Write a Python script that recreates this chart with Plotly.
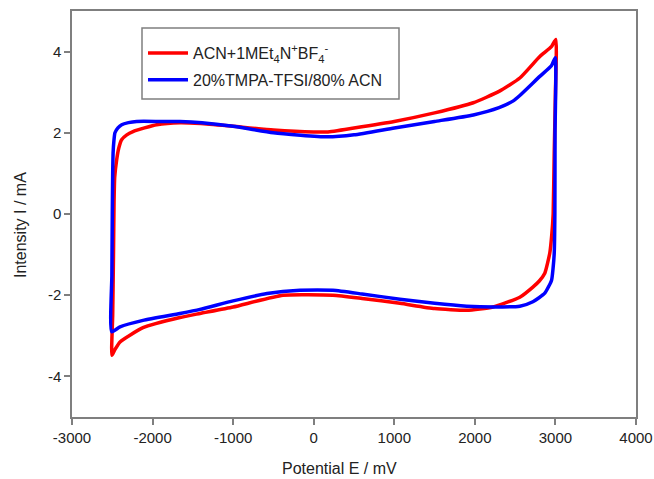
import plotly.graph_objects as go

# Red: ACN + 1M Et4N+BF4-
red_E = [-2505, -2495, -2485, -2478, -2470, -2446, -2420, -2384, -2320, -2243, -2100, -1950,
         -1660, -1400, -1000, -500, 0, 165, 500, 1000, 1500, 1981, 2300, 2558, 2806, 2950, 3005,
         3000, 2985, 2972, 2955, 2930, 2868, 2800, 2720, 2558, 2223, 1900, 1500, 1070, 600, 238,
         -382, -1000, -1412, -1660, -2119, -2404, -2470, -2505]
red_I = [-3.48, -2.5, -1.0, 0.3, 0.9, 1.33, 1.62, 1.83, 1.95, 2.03, 2.12, 2.2,
         2.25, 2.23, 2.16, 2.07, 2.02, 2.02, 2.12, 2.28, 2.49, 2.74, 3.02, 3.35, 3.88, 4.12, 4.3,
         3.0, 1.5, 0.0, -0.5, -0.96, -1.46, -1.65, -1.8, -2.05, -2.29, -2.37, -2.33, -2.2, -2.08, -2.0,
         -2.0, -2.29, -2.45, -2.55, -2.8, -3.15, -3.35, -3.48]

# Blue: 20% TMPA-TFSI / 80% ACN
blue_E = [-2507, -2505, -2500, -2495, -2490, -2480, -2467, -2430, -2383, -2300, -2197, -1900,
          -1660, -1386, -1000, -500, 165, 500, 1000, 1500, 1981, 2300, 2472, 2558, 2806, 2950, 2998,
          2995, 2993, 2985, 2970, 2952, 2868, 2720, 2558, 2223, 1900, 1500, 1070, 600, 238, -171,
          -580, -1000, -1412, -1660, -2119, -2404, -2507]
blue_I = [-2.9, -1.5, 0.0, 1.0, 1.5, 1.8, 2.0, 2.12, 2.2, 2.25, 2.28, 2.28,
          2.28, 2.25, 2.16, 2.0, 1.90, 1.95, 2.12, 2.28, 2.44, 2.62, 2.78, 2.92, 3.39, 3.65, 3.85,
          2.0, 0.0, -0.97, -1.35, -1.63, -1.95, -2.16, -2.27, -2.29, -2.27, -2.2, -2.1, -1.97, -1.88, -1.88,
          -1.96, -2.14, -2.35, -2.45, -2.62, -2.78, -2.9]

x_ticks = [-3000, -2000, -1000, 0, 1000, 2000, 3000, 4000]
y_ticks = [-4, -2, 0, 2, 4]

FONT = "Liberation Sans, Arial"

fig = go.Figure()
fig.add_trace(go.Scatter(x=red_E, y=red_I, mode="lines",
                         line=dict(color="#FF0000", width=3.5, shape="spline", smoothing=0.5),
                         legendgroup="a",
                         name="ACN+1MEt<sub>4</sub>N<sup>+</sup>BF<sub>4</sub><sup>-</sup>"))
fig.add_trace(go.Scatter(x=blue_E, y=blue_I, mode="lines",
                         line=dict(color="#0000FF", width=3.5, shape="spline", smoothing=0.5),
                         legendgroup="b",
                         name="20%TMPA-TFSI/80% ACN"))

axis_common = dict(showgrid=False, zeroline=False, showline=True, linecolor="#7f7f7f",
                   linewidth=1.5, mirror=True, ticks="outside", ticklen=6, tickwidth=1.5,
                   tickcolor="#7f7f7f", automargin=False,
                   tickfont=dict(family=FONT, size=15, color="#222"))

fig.update_xaxes(range=[-3000, 4000], tickvals=x_ticks, ticktext=[str(v) for v in x_ticks],
                 **axis_common)
fig.update_yaxes(range=[-5, 5], tickvals=y_ticks, ticktext=[str(v) for v in y_ticks],
                 **axis_common)

# axis titles positioned as in the reference
fig.add_annotation(text="Potential E / mV", xref="paper", yref="paper",
                   x=(339 - 72) / 564, y=-(468 - 417) / 406, xanchor="center", yanchor="middle",
                   showarrow=False, font=dict(family=FONT, size=16, color="#222"))
fig.add_annotation(text="Intensity I / mA", xref="paper", yref="paper",
                   x=-(72 - 20) / 564, y=(417 - 225) / 406, xanchor="center", yanchor="middle",
                   textangle=-90, showarrow=False, font=dict(family=FONT, size=16, color="#222"))

# legend frame
fig.add_shape(type="rect", xref="paper", yref="paper",
              x0=(142 - 72) / 564, x1=(399 - 72) / 564,
              y0=(417 - 99) / 406, y1=(417 - 28) / 406,
              line=dict(color="#7f7f7f", width=1.5), fillcolor="rgba(0,0,0,0)")

fig.update_layout(
    width=654, height=479,
    margin=dict(l=72, r=18, t=11, b=62),
    paper_bgcolor="white", plot_bgcolor="white",
    showlegend=True,
    legend=dict(x=(143 - 72) / 564, y=(417 - 36) / 406, xanchor="left", yanchor="top",
                borderwidth=0, bgcolor="rgba(0,0,0,0)",
                traceorder="grouped", tracegroupgap=3,
                font=dict(family=FONT, size=16, color="#222"),
                itemwidth=40),
)

fig.write_html("out.html")
